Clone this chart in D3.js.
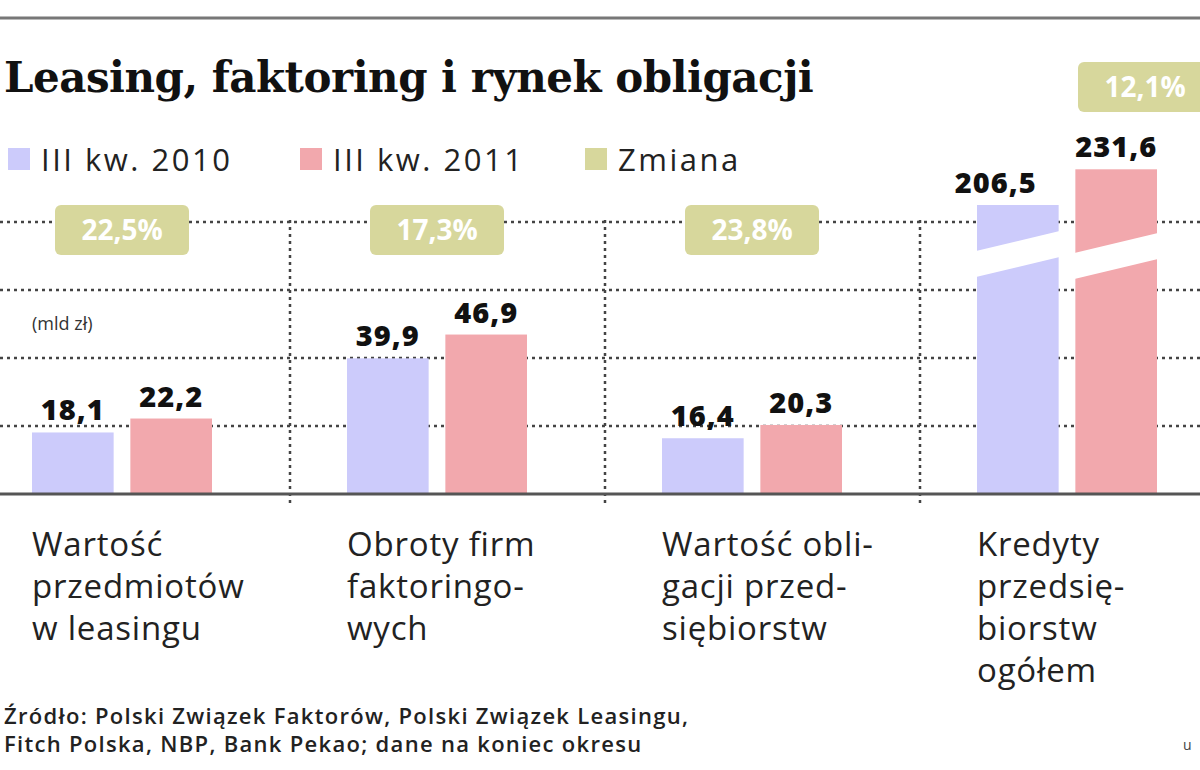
<!DOCTYPE html>
<html><head><meta charset="utf-8">
<script src="https://cdn.jsdelivr.net/npm/d3@7"></script>
<style>body{margin:0;background:#fff}</style>
</head><body><div id="chart"></div>
<script>
// Data
const categories = [
  ["Wartość", "przedmiotów", "w leasingu"],
  ["Obroty firm", "faktoringo-", "wych"],
  ["Wartość obli-", "gacji przed-", "siębiorstw"],
  ["Kredyty", "przedsię-", "biorstw", "ogółem"]
];
const series = ["III kw. 2010", "III kw. 2011"];
const values2010 = [18.1, 39.9, 16.4, 206.5];
const values2011 = [22.2, 46.9, 20.3, 231.6];
const labels2010 = ["18,1", "39,9", "16,4", "206,5"];
const labels2011 = ["22,2", "46,9", "20,3", "231,6"];
const changes = ["22,5%", "17,3%", "23,8%", "12,1%"];
const gridTicks = [20, 40, 60, 80];
const capValue = 85; // broken bars are drawn cut to this height
const capValue2 = 95.5;

const width = 1200, height = 770;
const colors = ["#cccbfb", "#f2a8ad"];
const badgeColor = "#d7d79c";
const font = "'Open Sans', 'Noto Sans', sans-serif";

const svg = d3.select("#chart").append("svg")
  .attr("width", width).attr("height", height);

const baseY = 494;
const y = d3.scaleLinear().domain([0, 100]).range([baseY, baseY - 340]);
const x = d3.scaleBand().domain(d3.range(4)).range([-28, 1232]).paddingInner(0);
const inner = d3.scaleBand().domain([0, 1]).range([60, 240]).paddingInner(0.17);

// top rule
svg.append("line").attr("x1", 0).attr("x2", width).attr("y1", 18).attr("y2", 18)
  .attr("stroke", "#777").attr("stroke-width", 3);

// title
svg.append("text").attr("x", 4).attr("y", 92)
  .style("font-family", "'DejaVu Serif', serif").style("font-weight", "bold")
  .style("font-size", "42px").style("letter-spacing", "-0.5px").attr("fill", "#111")
  .text("Leasing, faktoring i rynek obligacji");

// legend
const legend = [series[0], series[1], "Zmiana"];
const legX = [8, 300, 585];
const legCol = [colors[0], colors[1], badgeColor];
legend.forEach((t, i) => {
  svg.append("rect").attr("x", legX[i]).attr("y", 148).attr("width", 22).attr("height", 22).attr("fill", legCol[i]);
  svg.append("text").attr("x", legX[i] + 33).attr("y", 171)
    .style("font-family", font).style("font-size", "31px").style("letter-spacing", "2.5px")
    .attr("fill", "#222").text(t);
});

// gridlines
gridTicks.forEach(t => {
  svg.append("line").attr("x1", 0).attr("x2", width).attr("y1", y(t)).attr("y2", y(t))
    .attr("stroke", "#444").attr("stroke-width", 2.5).attr("stroke-dasharray", "3,4");
});
// vertical separators
[1, 2, 3].forEach(i => {
  svg.append("line").attr("x1", x(i) + 3).attr("x2", x(i) + 3).attr("y1", y(80) - 2).attr("y2", baseY + 12)
    .attr("stroke", "#444").attr("stroke-width", 2.5).attr("stroke-dasharray", "3,4");
});

svg.append("text").attr("x", 32).attr("y", 330)
  .style("font-family", font).style("font-size", "18px").attr("fill", "#333").text("(mld zł)");

// bars
d3.range(4).forEach(i => {
  const vals = [values2010[i], values2011[i]];
  const labs = [labels2010[i], labels2011[i]];
  const broken = vals[1] > 100;
  vals.forEach((v, s) => {
    const bx = x(i) + inner(s), bw = inner.bandwidth();
    const shown = broken ? (s === 0 ? capValue : capValue2) : v;
    svg.append("rect").attr("x", bx).attr("y", y(shown)).attr("width", bw)
      .attr("height", baseY - y(shown)).attr("fill", colors[s]);
    if (broken) {
      const yl = y(capValue) + 46 + s * 2, yr = yl - 20;
      svg.append("polygon")
        .attr("points", `${bx - 1},${yl} ${bx + bw + 1},${yr} ${bx + bw + 1},${yr + 26} ${bx - 1},${yl + 26}`)
        .attr("fill", "#fff");
    }
    svg.append("text").attr("x", bx + bw / 2 + (broken && s === 0 ? -22 : 0)).attr("y", y(shown) - 12)
      .attr("text-anchor", "middle").style("font-family", font).style("font-weight", "800")
      .style("font-size", "29px").style("letter-spacing", "1px").attr("fill", "#111").text(labs[s]);
  });
  // badge
  const cx = x(i) + (broken ? 228 : 150);
  const by = broken ? 62 : 205;
  svg.append("rect").attr("x", cx - 67).attr("y", by).attr("width", 134).attr("height", 50)
    .attr("rx", 6).attr("fill", badgeColor);
  svg.append("text").attr("x", cx).attr("y", by + 35).attr("text-anchor", "middle")
    .style("font-family", font).style("font-weight", "bold").style("font-size", "28px")
    .attr("fill", "#fff").text(changes[i]);
  // category label
  categories[i].forEach((line, k) => {
    svg.append("text").attr("x", x(i) + 60).attr("y", 556 + k * 42)
      .style("font-family", font).style("font-size", "33px").style("letter-spacing", "0.8px")
      .attr("fill", "#222").text(line);
  });
});

// baseline
svg.append("line").attr("x1", 0).attr("x2", width).attr("y1", baseY).attr("y2", baseY)
  .attr("stroke", "#555").attr("stroke-width", 3);

// source
["Źródło: Polski Związek Faktorów, Polski Związek Leasingu,",
 "Fitch Polska, NBP, Bank Pekao; dane na koniec okresu"].forEach((t, k) => {
  svg.append("text").attr("x", 4).attr("y", 724 + k * 28)
    .style("font-family", font).style("font-weight", "600").style("font-size", "22px")
    .style("letter-spacing", "1.3px").attr("fill", "#222").text(t);
});
svg.append("text").attr("x", 1183).attr("y", 750).style("font-family", font)
  .style("font-size", "14px").attr("fill", "#444").text("u");
</script>
</body></html>
